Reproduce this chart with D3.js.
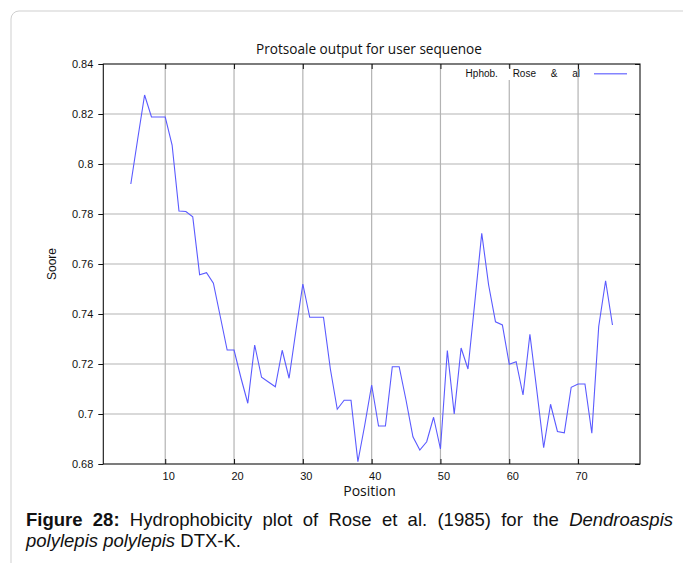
<!DOCTYPE html>
<html>
<head>
<meta charset="utf-8">
<script src="https://cdn.jsdelivr.net/npm/d3@7"></script>
<style>
  html, body { margin: 0; padding: 0; background: #fff; }
  svg { display: block; }
</style>
</head>
<body>
<svg id="chart" width="683" height="563"></svg>
<script>
// Sliding-window positions along the sequence
const positions = [5, 6, 7, 8, 9, 10, 11, 12, 13, 14, 15, 16, 17, 18, 19, 20,
  21, 22, 23, 24, 25, 26, 27, 28, 29, 30, 31, 32, 33, 34, 35, 36, 37, 38, 39, 40,
  41, 42, 43, 44, 45, 46, 47, 48, 49, 50, 51, 52, 53, 54, 55, 56, 57, 58, 59, 60,
  61, 62, 63, 64, 65, 66, 67, 68, 69, 70, 71, 72, 73, 74, 75];

// Hydrophobicity score (Rose et al.) per position
const scores = [0.792, 0.810, 0.8276, 0.8188, 0.8188, 0.8188, 0.8076, 0.7812, 0.7810, 0.7789,
  0.7557, 0.7565, 0.7523, 0.7390, 0.7256, 0.7256, 0.7145, 0.7043, 0.7276, 0.7147,
  0.7128, 0.7109, 0.7255, 0.7143, 0.7335, 0.7520, 0.7387, 0.7387, 0.7387, 0.7180,
  0.7019, 0.7055, 0.7055, 0.6809, 0.6956, 0.7116, 0.6952, 0.6952, 0.7189, 0.7189,
  0.7055, 0.6909, 0.6856, 0.6889, 0.6987, 0.6860, 0.7254, 0.7000, 0.7264, 0.7180,
  0.7449, 0.7723, 0.7516, 0.7369, 0.7356, 0.7199, 0.7209, 0.7076, 0.7319, 0.7095,
  0.6865, 0.7039, 0.6930, 0.6925, 0.7107, 0.7120, 0.7120, 0.6923, 0.7350, 0.7533,
  0.7356];

const xTicks = [10, 20, 30, 40, 50, 60, 70];
const yTicks = [0.68, 0.70, 0.72, 0.74, 0.76, 0.78, 0.80, 0.82, 0.84];
const xDomain = [1, 79];
const yDomain = [0.68, 0.84];

const titleText = "Protsoale output for user sequenoe";
const xLabel = "Position";
const yLabel = "Soore";
const legendLabel = "Hphob. Rose & al";

const captionLine1 = [
  { t: "Figure", w: "bold" }, { t: "28:", w: "bold" },
  { t: "Hydrophobicity" }, { t: "plot" }, { t: "of" }, { t: "Rose" },
  { t: "et" }, { t: "al." }, { t: "(1985)" }, { t: "for" }, { t: "the" },
  { t: "Dendroaspis", s: "italic" }
];
const captionLine2 = [
  { t: "polylepis polylepis", s: "italic" }, { t: " DTX-K." }
];

const svg = d3.select("#chart");
const M = { left: 103.3, top: 64, right: 640, bottom: 464 };

const x = d3.scaleLinear().domain(xDomain).range([M.left, M.right]);
const y = d3.scaleLinear().domain(yDomain).range([M.bottom, M.top]);

const ARIAL = "'Liberation Sans', Arial, Helvetica, sans-serif";
const OPEN = "'Open Sans', 'Noto Sans', sans-serif";

// Outer rounded panel
svg.append("rect")
  .attr("x", 11).attr("y", 11)
  .attr("width", 720).attr("height", 600)
  .attr("rx", 8)
  .attr("fill", "none")
  .attr("stroke", "#cfcfcf")
  .attr("stroke-width", 1);

// Grid
const grid = svg.append("g").attr("stroke", "#b3b3b3").attr("stroke-width", 1.2);
grid.selectAll("line.gx").data(xTicks).join("line")
  .attr("x1", d => x(d)).attr("x2", d => x(d))
  .attr("y1", M.top).attr("y2", M.bottom);
grid.selectAll("line.gy").data(yTicks.slice(1, -1)).join("line")
  .attr("x1", M.left).attr("x2", M.right)
  .attr("y1", d => y(d)).attr("y2", d => y(d));

// Legend background knocks out the grid behind the key text
svg.append("rect")
  .attr("x", 462).attr("y", 68).attr("width", 113).attr("height", 12)
  .attr("fill", "#fff");

// Axes
const fmt = d => d3.format(".2f")(d).replace(/0+$/, "").replace(/\.$/, "");

const gLeft = svg.append("g").attr("transform", `translate(${M.left},0)`)
  .call(d3.axisLeft(y).tickValues(yTicks).tickFormat(fmt).tickSize(5).tickSizeOuter(0).tickPadding(5));
const gRight = svg.append("g").attr("transform", `translate(${M.right},0)`)
  .call(d3.axisRight(y).tickValues(yTicks).tickFormat("").tickSize(-5).tickSizeOuter(0));
const gBottom = svg.append("g").attr("transform", `translate(0,${M.bottom})`)
  .call(d3.axisBottom(x).tickValues(xTicks).tickSize(-5).tickSizeOuter(0).tickPadding(8.2));
const gTop = svg.append("g").attr("transform", `translate(0,${M.top})`)
  .call(d3.axisTop(x).tickValues(xTicks).tickFormat("").tickSize(-5).tickSizeOuter(0));

[gLeft, gRight, gBottom, gTop].forEach(g => {
  g.select(".domain").remove();
  g.selectAll(".tick line").attr("stroke", "#111").attr("stroke-width", 1);
  g.selectAll("text").attr("font-family", ARIAL).attr("font-size", 11).attr("fill", "#111");
});
gBottom.selectAll("text").attr("dx", 3);

// Frame
svg.append("rect")
  .attr("x", M.left).attr("y", M.top)
  .attr("width", M.right - M.left).attr("height", M.bottom - M.top)
  .attr("fill", "none").attr("stroke", "#111").attr("stroke-width", 1.1);

// Data line
const data = positions.map((p, i) => ({ p, v: scores[i] }));
svg.append("path")
  .datum(data)
  .attr("fill", "none")
  .attr("stroke", "#5a5aff")
  .attr("stroke-width", 1.1)
  .attr("stroke-linejoin", "miter")
  .attr("d", d3.line().x(d => x(d.p)).y(d => y(d.v)));

// Legend
svg.append("text")
  .attr("x", 580).attr("y", 77)
  .attr("text-anchor", "end")
  .attr("font-family", ARIAL).attr("font-size", 10)
  .attr("word-spacing", 12)
  .attr("fill", "#111")
  .text(legendLabel);
svg.append("line")
  .attr("x1", 594).attr("x2", 627)
  .attr("y1", 73.7).attr("y2", 73.7)
  .attr("stroke", "#8484ff").attr("stroke-width", 1.6);

// Titles
svg.append("text")
  .attr("x", 369).attr("y", 53.5)
  .attr("text-anchor", "middle")
  .attr("font-family", OPEN).attr("font-size", 13.6)
  .attr("fill", "#111")
  .text(titleText);
svg.append("text")
  .attr("x", 369.5).attr("y", 496)
  .attr("text-anchor", "middle")
  .attr("font-family", OPEN).attr("font-size", 14)
  .attr("fill", "#111")
  .text(xLabel);
svg.append("text")
  .attr("transform", "translate(55.5,264) rotate(-90)")
  .attr("text-anchor", "middle")
  .attr("font-family", ARIAL).attr("font-size", 12)
  .attr("fill", "#111")
  .text(yLabel);

// Caption: first line justified between the margins, second line flush left
const capSize = 18.5;
const capLeft = 26, capRight = 673;
const cap1 = svg.append("g");
const words = cap1.selectAll("text").data(captionLine1).join("text")
  .attr("y", 525.5)
  .attr("font-family", ARIAL).attr("font-size", capSize)
  .attr("font-weight", d => d.w || "normal")
  .attr("font-style", d => d.s || "normal")
  .attr("fill", "#111")
  .text(d => d.t);
const widths = words.nodes().map(n => n.getComputedTextLength());
const gap = (capRight - capLeft - d3.sum(widths)) / (widths.length - 1);
let cx = capLeft;
words.each(function (d, i) {
  d3.select(this).attr("x", cx);
  cx += widths[i] + gap;
});

const cap2 = svg.append("text")
  .attr("x", capLeft).attr("y", 546.5)
  .attr("font-family", ARIAL).attr("font-size", capSize)
  .attr("fill", "#111")
  .attr("xml:space", "preserve");
cap2.selectAll("tspan").data(captionLine2).join("tspan")
  .attr("font-style", d => d.s || "normal")
  .text(d => d.t);
</script>
</body>
</html>
